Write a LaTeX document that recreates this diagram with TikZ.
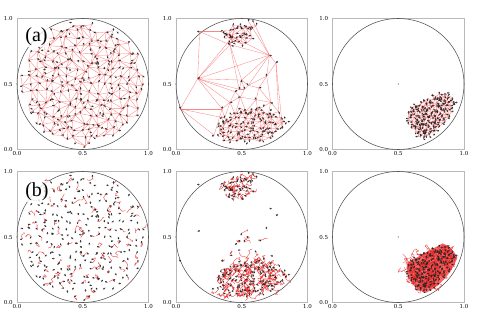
\documentclass[tikz,border=0pt]{standalone}
\usepackage{fontspec}
\setmainfont{DejaVu Serif}
\newfontfamily\tagfont{Liberation Serif}
\usetikzlibrary{arrows.meta}

\definecolor{netred}{RGB}{248,96,96}
\definecolor{trailred}{RGB}{236,40,40}
\definecolor{spine}{RGB}{185,185,185}
\definecolor{rim}{RGB}{80,80,80}

\tikzset{
  axisbox/.style={draw=spine, line width=0.9pt},
  arena/.style={draw=rim, line width=0.55pt},
  link/.style={draw=netred, line width=0.35pt, opacity=0.75},
  trail/.style={draw=trailred, line width=0.4pt, opacity=0.85, line join=round},
  agent/.style={black!85, line width=0.5pt, -{Stealth[length=1.7pt,width=1.8pt]}},
  ticklabel/.style={font=\fontsize{5.5}{6}\selectfont, inner sep=0.6pt},
  tag/.style={font=\tagfont\fontsize{20}{22}\selectfont, fill=white, fill opacity=0.8, text opacity=1, inner sep=1.5pt}
}

% jittered lattice of positions inside a region: name, last i, last j, x0, y0, spacing, test
\newcommand{\flock}[7]{%
  \foreach \i in {0,...,#2}{
    \foreach \j in {0,...,#3}{
      \pgfmathsetmacro{\px}{#4+\i*#6}
      \pgfmathsetmacro{\py}{#5+\j*#6}
      \pgfmathparse{#7}
      \ifdim\pgfmathresult pt>0.5pt
        \coordinate (#1-\i-\j) at ({\px+0.38*#6*rand},{\py+0.38*#6*rand});
        \expandafter\gdef\csname on#1-\i-\j\endcsname{}
      \fi
    }
  }
}
% neighbour network
\newcommand{\mesh}[3]{%
  \foreach \i in {0,...,#2}{
    \foreach \j in {0,...,#3}{
      \ifcsname on#1-\i-\j\endcsname
        \pgfmathtruncatemacro{\ii}{\i+1}
        \pgfmathtruncatemacro{\jj}{\j+1}
        \ifcsname on#1-\ii-\j\endcsname \draw[link] (#1-\i-\j) -- (#1-\ii-\j);\fi
        \ifcsname on#1-\i-\jj\endcsname \draw[link] (#1-\i-\j) -- (#1-\i-\jj);\fi
        \pgfmathparse{rnd}
        \ifdim\pgfmathresult pt<0.5pt
          \ifcsname on#1-\ii-\jj\endcsname \draw[link] (#1-\i-\j) -- (#1-\ii-\jj);\fi
        \else
          \ifcsname on#1-\ii-\j\endcsname\ifcsname on#1-\i-\jj\endcsname
            \draw[link] (#1-\ii-\j) -- (#1-\i-\jj);
          \fi\fi
        \fi
      \fi
    }
  }
}
% short random walks: name, last i, last j, chance, steps, step
\newcommand{\trails}[6]{%
  \foreach \i in {0,...,#2}{
    \foreach \j in {0,...,#3}{
      \ifcsname on#1-\i-\j\endcsname
        \pgfmathparse{rnd}
        \ifdim\pgfmathresult pt<#4pt
          \draw[trail] (#1-\i-\j) \foreach \k in {1,...,#5}{ -- ++({#6*rand},{#6*rand}) };
        \fi
      \fi
    }
  }
}
% particles
\newcommand{\agents}[3]{%
  \foreach \i in {0,...,#2}{
    \foreach \j in {0,...,#3}{
      \ifcsname on#1-\i-\j\endcsname
        \draw[agent] (#1-\i-\j) -- ++({360*rnd}:2.6pt);
        \pgfmathparse{rnd}
        \ifdim\pgfmathresult pt<0.3pt
          \draw[agent] ([shift={({360*rnd}:3.5pt)}]#1-\i-\j) -- ++({360*rnd}:2.6pt);
        \fi
      \fi
    }
  }
}

\newcommand{\loners}{s1/0.165/0.54, s2/0.033/0.31, s3/0.18/0.90, s4/0.71/0.72, s5/0.76/0.66, s6/0.69/0.56,
  m1/0.50/0.53, m2/0.55/0.49, m3/0.52/0.46, m4/0.48/0.46, m5/0.45/0.44, m6/0.63/0.47, m7/0.49/0.40,
  m8/0.41/0.36, m9/0.35/0.31, m10/0.61/0.38, m11/0.72/0.36, m12/0.78/0.29,
  c1/0.37/0.24, c2/0.45/0.27, c3/0.53/0.29, c4/0.62/0.30, c5/0.70/0.26, c6/0.29/0.11, c7/0.81/0.16,
  t1/0.34/0.90, t2/0.41/0.80, t3/0.43/0.86, t4/0.55/0.98, t5/0.59/0.97}
\newcommand{\lonerlinks}{s3/s1, s3/t1, s3/t2, s1/t2, s1/t3, s1/m1, s1/m4, s1/m5, s1/m8, s1/m9, s1/s2, s1/s4,
  s2/m9, s2/c6, s2/c1, s4/t2, s4/t3, s4/t4, s4/t5, s4/s5, s4/m1, s4/m2, s4/s6, s5/s6, s5/m12, s5/c7,
  s6/m2, s6/m6, s6/m11, m1/m2, m1/m4, m1/m3, m2/m3, m3/m4, m4/m5, m5/m8, m5/m7, m3/m7, m2/m6, m6/m10,
  m7/m10, m7/m8, m8/m9, m10/m11, m11/m12, m12/c7, m9/c1, m9/c6, m8/c1, m8/c2, m7/c2, m7/c3, m10/c3,
  m10/c4, m11/c4, m11/c5, m12/c5, m6/m11, t2/m1, t2/m4, t3/t2, t1/t3}
\newcommand{\incircle}{(\px-0.5)*(\px-0.5)+(\py-0.5)*(\py-0.5)<0.215}

\begin{document}
\begin{tikzpicture}[x=1pt, y=-1pt]
  \useasboundingbox (0,0) rectangle (480,316);

  % axes boxes, arena and tick labels
  \foreach \ox/\oy in {17/149.5, 176/149.5, 332.5/149.5, 17/302.5, 176/302.5, 332.5/302.5}{
    \begin{scope}[shift={(\ox,\oy)}, x=131.5pt, y=131pt]
      \draw[axisbox] (0,0) rectangle (1,1);
      \draw[arena] (0.5,0.5) circle[radius=0.5];
      \foreach \t in {0.0,0.5,1.0}{
        \node[ticklabel, anchor=north, yshift=-0.8pt] at (\t,0) {\t};
        \node[ticklabel, anchor=east, xshift=-3.5pt] at (0,\t) {\t};
      }
    \end{scope}
  }

  % (a) left: spread out
  \begin{scope}[shift={(17,149.5)}, x=131.5pt, y=131pt]
    \pgfmathsetseed{11}
    \flock{a1}{16}{16}{0.036}{0.036}{0.058}{(\px-0.5)*(\px-0.5)+(\py-0.5)*(\py-0.5)<0.22}
    \mesh{a1}{16}{16}
    \pgfmathsetseed{12}
    \agents{a1}{16}{16}
  \end{scope}

  % (a) middle: clusters
  \begin{scope}[shift={(176,149.5)}, x=131.5pt, y=131pt]
    \pgfmathsetseed{21}
    \flock{a2c}{17}{9}{0.29}{0.0}{0.034}{\incircle && (\px-0.58)*(\px-0.58)/0.0784+(\py-0.12)*(\py-0.12)/0.04<1}
    \flock{a2t}{8}{6}{0.33}{0.78}{0.034}{\incircle && ((\px-0.47)*(\px-0.47)/0.0169+(\py-0.88)*(\py-0.88)/0.0064<1 || (\px-0.57)*(\px-0.57)+(\py-0.955)*(\py-0.955)<0.0016)}
    \foreach \n/\hx/\hy in \loners{
      \coordinate (a2\n) at (\hx,\hy);
    }
    \mesh{a2c}{17}{9}
    \mesh{a2t}{8}{6}
    \foreach \p/\q in \lonerlinks{
      \draw[link] (a2\p) -- (a2\q);
    }
    \pgfmathsetseed{22}
    \agents{a2c}{17}{9}
    \agents{a2t}{8}{6}
    \foreach \n/\hx/\hy in \loners{
      \draw[agent] (a2\n) -- ++({360*rnd}:2.6pt);
    }
  \end{scope}

  % (a) right: one tight flock
  \begin{scope}[shift={(332.5,149.5)}, x=131.5pt, y=131pt]
    \pgfmathsetseed{31}
    \flock{a3}{18}{17}{0.56}{0.06}{0.023}{\incircle && (\px-0.765)*(\px-0.765)+(\py-0.265)*(\py-0.265)<0.04 && \py<0.31+0.55*(\px-0.58)}
    \mesh{a3}{18}{17}
    \pgfmathsetseed{32}
    \agents{a3}{18}{17}
    \coordinate (a3mid) at (0.5,0.5);
    \fill[rim] (a3mid) circle[radius=0.7pt];
  \end{scope}

  % (b) left
  \begin{scope}[shift={(17,302.5)}, x=131.5pt, y=131pt]
    \pgfmathsetseed{11}
    \flock{b1}{16}{16}{0.036}{0.036}{0.058}{(\px-0.5)*(\px-0.5)+(\py-0.5)*(\py-0.5)<0.22}
    \trails{b1}{16}{16}{0.5}{4}{3pt}
    \pgfmathsetseed{12}
    \agents{b1}{16}{16}
  \end{scope}

  % (b) middle
  \begin{scope}[shift={(176,302.5)}, x=131.5pt, y=131pt]
    \pgfmathsetseed{21}
    \flock{b2c}{17}{9}{0.29}{0.0}{0.034}{\incircle && (\px-0.58)*(\px-0.58)/0.0784+(\py-0.12)*(\py-0.12)/0.04<1}
    \flock{b2t}{8}{6}{0.33}{0.78}{0.034}{\incircle && ((\px-0.47)*(\px-0.47)/0.0169+(\py-0.88)*(\py-0.88)/0.0064<1 || (\px-0.57)*(\px-0.57)+(\py-0.955)*(\py-0.955)<0.0016)}
    \foreach \n/\hx/\hy in \loners{
      \coordinate (b2\n) at (\hx,\hy);
    }
    \trails{b2c}{17}{9}{1}{8}{3.2pt}
    \trails{b2t}{8}{6}{1}{6}{3pt}
    \foreach \n in {m1,m2,m3,m4,m6,m8,m9,m10,m12,c1,c2,c3,c4,c5,t2,t3}{
      \draw[trail] (b2\n) \foreach \k in {1,...,5}{ -- ++({3pt*rand},{3pt*rand}) };
    }
    \pgfmathsetseed{22}
    \agents{b2c}{17}{9}
    \agents{b2t}{8}{6}
    \foreach \n/\hx/\hy in \loners{
      \draw[agent] (b2\n) -- ++({360*rnd}:2.6pt);
    }
  \end{scope}

  % (b) right
  \begin{scope}[shift={(332.5,302.5)}, x=131.5pt, y=131pt]
    \pgfmathsetseed{31}
    \flock{b3}{18}{17}{0.56}{0.06}{0.023}{\incircle && (\px-0.765)*(\px-0.765)+(\py-0.265)*(\py-0.265)<0.04 && \py<0.31+0.55*(\px-0.58)}
    \begin{scope}
      \clip (0.5,0.5) circle[radius=0.475];
      \clip (0.3,0.156) -- (1,0.541) -- (1,0) -- (0.3,0) -- cycle;
      \fill[trailred, opacity=0.7] (0.765,0.265) circle[radius=0.2];
    \end{scope}
    \trails{b3}{18}{17}{1}{8}{3pt}
    \pgfmathsetseed{32}
    \agents{b3}{18}{17}
    \coordinate (b3mid) at (0.5,0.5);
    \fill[rim] (b3mid) circle[radius=0.7pt];
  \end{scope}

  \node[tag] (taga) at (36.5,36.5) {(a)};
  \node[tag] (tagb) at (37,191.5) {(b)};
\end{tikzpicture}
\end{document}
